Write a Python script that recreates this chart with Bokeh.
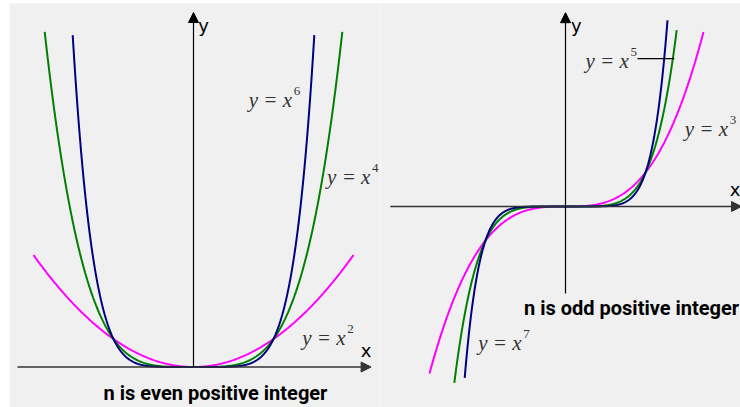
import numpy as np
from bokeh.plotting import figure
from bokeh.layouts import row
from bokeh.models import Arrow, NormalHead, ColumnDataSource
from bokeh.core.properties import value
from bokeh.embed import file_html
from bokeh.resources import INLINE

# ---------------- data ----------------
# left panel: y = x^n for even n
even_n = [2, 4, 6]
even_xmax = [2.0, 1.86, 1.51]          # extent of each drawn curve
even_colors = ["#ff00ff", "#008000", "#000080"]
even_sup = ["2", "4", "6"]

# right panel: y = x^n for odd n
odd_n = [3, 5, 7]
odd_xmin = [-1.70, -1.39, -1.26]
odd_xmax = [1.725, 1.39, 1.275]
odd_colors = ["#ff00ff", "#008000", "#000080"]
odd_sup = ["3", "5", "7"]

left_title = "n is even positive integer"
right_title = "n is odd positive integer"

BG = "#f0f0f0"
W_L, W_R, H = 380, 360, 407


# reference-picture geometry (axis origin pixel & unit size) used to set ranges
def ranges(ref_x0, ref_x1, ox, ux, oy, uy, ref_y0=3, ref_y1=407):
    return ((ref_x0 - ox) / ux, (ref_x1 - ox) / ux), ((oy - ref_y1) / uy, (oy - ref_y0) / uy)


(lx0, lx1), (ly0, ly1) = ranges(9, 380, 193, 80, 366.5, 28)
(rx0, rx1), (ry0, ry1) = ranges(380, 740, 565, 80, 206, 34)


def base(w, xr, yr, left_border):
    p = figure(width=w, height=H, x_range=xr, y_range=yr, output_backend="svg",
               toolbar_location=None, x_axis_location=None, y_axis_location=None,
               min_border=0, min_border_left=left_border, min_border_top=3,
               background_fill_color=BG, border_fill_color="white",
               outline_line_color=None)
    p.grid.visible = False
    return p


def axis_arrow(p, x0, y0, x1, y1, color="black", w=1.2):
    p.add_layout(Arrow(end=NormalHead(size=10, fill_color=color, line_color=color),
                       x_start=x0, y_start=y0, x_end=x1, y_end=y1,
                       line_color=color, line_width=w))


def label(p, xs, ys, sups, off=45):
    src = ColumnDataSource(dict(x=xs, y=ys, t=["y = x"] * len(xs), s=sups))
    p.text("x", "y", text="t", source=src, text_font=value("Liberation Serif"),
           text_font_style="italic", text_font_size="21px", text_color="#333333",
           text_baseline="middle", text_align="left")
    p.text("x", "y", text="s", source=src, text_font=value("Liberation Serif"),
           text_font_size="13px", text_color="#333333", x_offset=off, y_offset=-9,
           text_baseline="middle", text_align="left")


TITLE_FONT = value("Roboto")
AX_FONT = value("DejaVu Sans")

# ---------------- left ----------------
pl = base(W_L, (lx0, lx1), (ly0, ly1), 9)
axis_arrow(pl, -2.2, 0, 2.22, 0, color="#333333", w=1.5)
axis_arrow(pl, 0, 0, 0, 12.66)
for n, xm, c in zip(even_n, even_xmax, even_colors):
    xs = np.linspace(-xm, xm, 400)
    pl.line(xs, xs ** n, line_color=c, line_width=2)
label(pl, [1.36, 1.67, 0.69], [1.05, 6.77, 9.52], even_sup)
pl.text([0.06], [12.2], text=["y"], text_font=AX_FONT, text_font_size="18px",
        text_baseline="middle", text_color="black")
pl.text([2.09], [0.6], text=["x"], text_font=AX_FONT, text_font_size="18px",
        text_baseline="middle", text_color="black")
pl.text([-1.125], [-0.93], text=[left_title], text_font=TITLE_FONT, text_font_style="bold",
        text_font_size="20px", text_baseline="middle", text_color="black")

# ---------------- right ----------------
pr = base(W_R, (rx0, rx1), (ry0, ry1), 0)
axis_arrow(pr, -2.19, 0, 2.2, 0, color="#333333", w=1.5)
axis_arrow(pr, 0, -2.56, 0, 5.7)
for n, a, b, c in zip(odd_n, odd_xmin, odd_xmax, odd_colors):
    xs = np.linspace(a, b, 400)
    pr.line(xs, xs ** n, line_color=c, line_width=2)
# label order: x^3 (right), x^5 (top, with leader), x^7 (bottom)
label(pr, [1.49, 0.25, -1.09], [2.29, 4.29, -4.0], odd_sup)
pr.segment(x0=[0.9], y0=[4.35], x1=[1.36], y1=[4.35], line_color="black", line_width=1.2)
pr.text([0.07], [5.32], text=["y"], text_font=AX_FONT, text_font_size="18px",
        text_baseline="middle", text_color="black")
pr.text([2.185], [0.5], text=["x"], text_font=AX_FONT, text_font_size="18px",
        text_baseline="middle", text_align="right", text_color="black")
pr.text([2.17], [-2.98], text=[right_title], text_font=TITLE_FONT, text_font_style="bold",
        text_font_size="20px", text_baseline="middle", text_align="right",
        text_color="black")

layout = row(pl, pr, spacing=0)
open("out.html", "w").write(file_html(layout, INLINE))
